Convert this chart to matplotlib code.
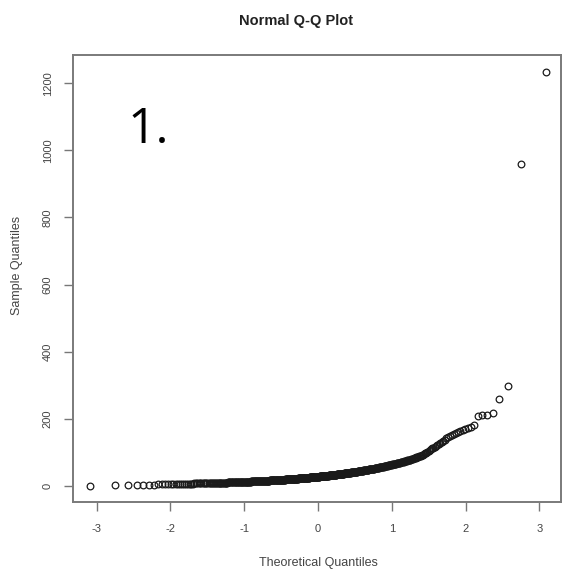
import numpy as np
import matplotlib
matplotlib.use('Agg')
import matplotlib.pyplot as plt
from statistics import NormalDist

# sorted sample, the dense lower part as value / how many times it occurs
low_values = [0, 1, 2, 3, 4, 5, 6, 7, 8, 9, 10, 11, 12, 13, 14, 15, 16, 17, 18, 19,
              20, 21, 22, 23, 24, 25, 26, 27, 28, 29, 30, 31, 32, 33, 34, 35, 36, 37, 38, 39,
              40, 41, 42, 43, 44, 45, 46, 47, 48, 49, 50, 51, 52, 53, 54, 55, 56, 57, 58, 59,
              60, 61, 62, 63, 64, 65, 66, 67, 68, 69, 70, 71, 72, 73, 74, 75, 76, 77, 78, 79, 80]
low_counts = [1, 1, 2, 3, 4, 5, 7, 10, 11, 11, 12, 12, 12, 13, 12, 12, 13, 12, 11, 12,
              11, 10, 11, 10, 9, 10, 9, 8, 9, 8, 8, 7, 7, 7, 7, 6, 6, 6, 6, 5,
              6, 5, 5, 5, 4, 4, 4, 4, 4, 4, 4, 4, 3, 3, 3, 3, 3, 3, 2, 3,
              2, 2, 3, 2, 2, 3, 2, 2, 2, 2, 2, 2, 1, 1, 2, 1, 2, 1, 2, 1, 1]

# the upper part, one value per point
high_values = [81, 82, 83, 84, 85, 86, 87, 88, 89, 90, 91,
               93, 95, 97, 99, 101, 103, 106, 108, 111,
               113, 116, 119, 121, 124, 127, 130, 133, 137, 141,
               144, 147, 150, 154, 157, 160, 163, 166, 169, 172,
               176, 181, 207, 210, 212, 217, 258, 296, 960, 1235]

sample = np.sort(np.concatenate([np.repeat(low_values, low_counts), high_values]))
n = len(sample)

# theoretical quantiles as qqnorm does it (ppoints, a = 0.5)
nd = NormalDist()
theo = np.array([nd.inv_cdf((i - 0.5) / n) for i in range(1, n + 1)])

W, H = 562, 572
fig = plt.figure(figsize=(W / 100, H / 100), dpi=100)
ax = fig.add_axes([73 / W, 1 - 502 / H, 488 / W, 447 / H])

ax.plot(theo, sample, 'o', mfc='none', mec='#1a1a1a', ms=4.8, mew=0.9)

ax.set_xlim(-3.321, 3.294)
ax.set_ylim(-48.6, 1284.4)
ax.set_xticks([-3, -2, -1, 0, 1, 2, 3])
ax.set_yticks([0, 200, 400, 600, 800, 1000, 1200])
ax.set_xticklabels(['-3', '-2', '-1', '0', '1', '2', '3'])
ax.set_yticklabels(['0', '200', '400', '600', '800', '1000', '1200'],
                   rotation=90, va='center')

for s in ax.spines.values():
    s.set_color('#7a7a7a')
    s.set_linewidth(1.4)
ax.tick_params(axis='both', length=6.5, width=1.0, color='#777777',
               labelsize=8, labelcolor='#444444', labelfontfamily='Liberation Sans')
ax.tick_params(axis='x', pad=9)
ax.tick_params(axis='y', pad=8)

fig.text(296 / W, 1 - 21 / H, 'Normal Q-Q Plot', ha='center', va='center',
         fontsize=10.5, fontweight='bold', family='Liberation Sans', color='#222222')
fig.text(318 / W, 1 - 563 / H, 'Theoretical Quantiles', ha='center', va='center',
         fontsize=9, family='Liberation Sans', color='#444444')
fig.text(17 / W, 1 - 265 / H, 'Sample Quantiles', ha='center', va='center',
         rotation=90, fontsize=9, family='Liberation Sans', color='#444444')
fig.text(127 / W, 1 - 143 / H, '1.', ha='left', va='baseline',
         fontsize=36, family='Open Sans', color='black')

fig.savefig('out.png', dpi=100)
